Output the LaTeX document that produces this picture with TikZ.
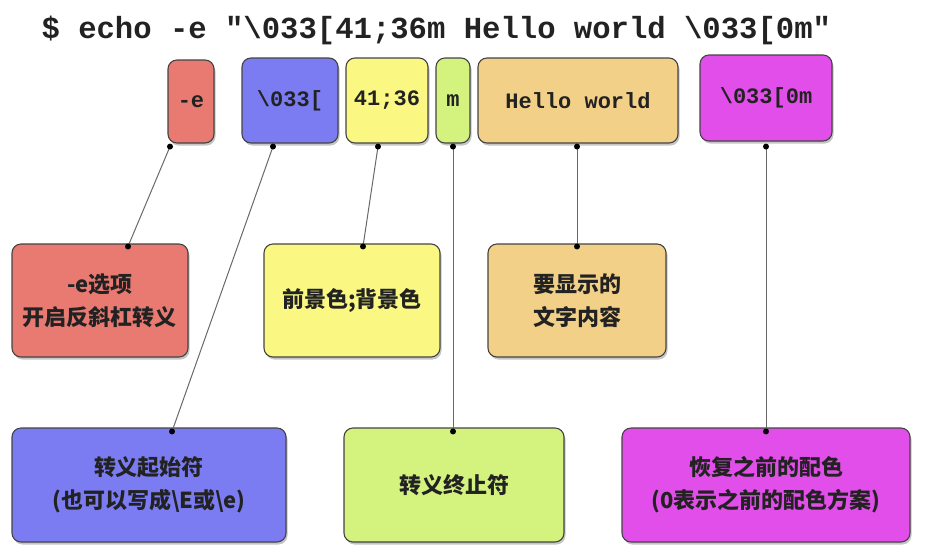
\documentclass[tikz,border=0pt]{standalone}
\usepackage{fontspec}
\newfontfamily\cjk{Noto Sans CJK SC}
\newfontfamily\mono{Liberation Mono}
\usetikzlibrary{shadows}
\definecolor{cred}{HTML}{E87A72}
\definecolor{cblue}{HTML}{7B7CF2}
\definecolor{cyellow}{HTML}{FAF882}
\definecolor{cgreen}{HTML}{D4F27E}
\definecolor{corange}{HTML}{F3D088}
\definecolor{cmagenta}{HTML}{E24EEA}
\definecolor{edge}{HTML}{444444}
\definecolor{txt}{HTML}{222222}
\tikzset{
  box/.style={draw=edge, line width=1.1pt, rounded corners=9pt, inner sep=0pt,
    align=center, text=txt,
    drop shadow={shadow xshift=1.5pt, shadow yshift=-2.5pt, opacity=0.45}},
  topbox/.style={box, font=\mono\bfseries\fontsize{22}{26}\selectfont},
  infobox/.style={box, font=\cjk\bfseries\fontsize{22}{33}\selectfont},
  link/.style={draw=edge!80, line width=1pt},
  dot/.style={circle, fill=black, inner sep=0pt, minimum size=6pt}
}
\begin{document}
\begin{tikzpicture}[x=1pt, y=-1pt]
\useasboundingbox[fill=white] (0,0) rectangle (940,558);
\node[anchor=west, font=\mono\bfseries\fontsize{30.6}{32}\selectfont, text=txt] (title) at (38,30) {\$ echo -e "\textbackslash 033[41;36m Hello world \textbackslash 033[0m"};
% top boxes
\node[topbox, fill=cred, minimum width=46pt, minimum height=83pt] (te) at (191,101.5) {-e};
\node[topbox, fill=cblue, minimum width=96pt, minimum height=85pt] (tesc) at (290,100.5) {\textbackslash 033[};
\node[topbox, fill=cyellow, minimum width=82pt, minimum height=85pt] (tcol) at (387,100.5) {41;36};
\node[topbox, fill=cgreen, minimum width=34pt, minimum height=85pt] (tm) at (453,100.5) {m};
\node[topbox, fill=corange, minimum width=200pt, minimum height=85pt] (thello) at (578,100.5) {Hello world};
\node[topbox, fill=cmagenta, minimum width=132pt, minimum height=86pt] (treset) at (766,98) {\textbackslash 033[0m};
% middle boxes
\node[infobox, fill=cred, minimum width=176pt, minimum height=113pt] (me) at (100,300.5) {-e选项\\开启反斜杠转义};
\node[infobox, fill=cyellow, minimum width=176pt, minimum height=113pt] (mcol) at (352,300.5) {前景色;背景色};
\node[infobox, fill=corange, minimum width=178pt, minimum height=113pt] (mhello) at (577,300.5) {要显示的\\文字内容};
% bottom boxes
\node[infobox, fill=cblue, minimum width=274pt, minimum height=114pt] (bstart) at (149,485) {转义起始符\\(也可以写成\textbackslash E或\textbackslash e)};
\node[infobox, fill=cgreen, minimum width=220pt, minimum height=114pt] (bend) at (454,485) {转义终止符};
\node[infobox, fill=cmagenta, minimum width=288pt, minimum height=114pt] (breset) at (766,485) {恢复之前的配色\\(0表示之前的配色方案)};
% connector end points
\coordinate (a1) at ([xshift=-21pt, yshift=-3pt]te.south);
\coordinate (a2) at ([xshift=-17pt, yshift=-3pt]tesc.south);
\coordinate (a3) at ([xshift=-9pt, yshift=-3pt]tcol.south);
\coordinate (a4) at ([yshift=-3pt]tm.south);
\coordinate (a5) at ([xshift=-1pt, yshift=-3pt]thello.south);
\coordinate (a6) at ([yshift=-5pt]treset.south);
\coordinate (b1) at ([xshift=28pt, yshift=-3pt]me.north);
\coordinate (b3) at ([xshift=11pt, yshift=-3pt]mcol.north);
\coordinate (b5) at ([yshift=-3pt]mhello.north);
\coordinate (b2) at ([xshift=23pt, yshift=-4pt]bstart.north);
\coordinate (b4) at ([xshift=-1pt, yshift=-4pt]bend.north);
\coordinate (b6) at ([yshift=-4pt]breset.north);
\draw[link] (a1) -- (b1);
\draw[link] (a2) -- (b2);
\draw[link] (a3) -- (b3);
\draw[link] (a4) -- (b4);
\draw[link] (a5) -- (b5);
\draw[link] (a6) -- (b6);
\foreach \p in {a1,a2,a3,a4,a5,a6,b1,b2,b3,b4,b5,b6} \node[dot] (d\p) at (\p) {};
\end{tikzpicture}
\end{document}
